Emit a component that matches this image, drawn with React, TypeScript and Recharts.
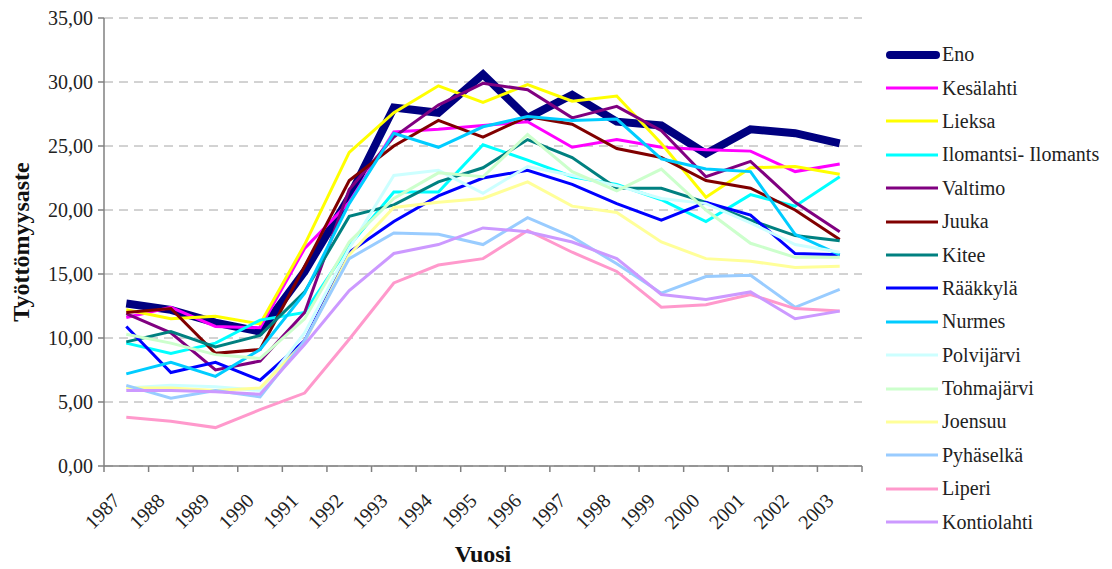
import { CartesianGrid, Legend, Line, LineChart, XAxis, YAxis } from "recharts";

// Työttömyysaste (%) by municipality, 1987–2003
const years = [1987, 1988, 1989, 1990, 1991, 1992, 1993, 1994, 1995, 1996, 1997, 1998, 1999, 2000, 2001, 2002, 2003];

const eno = [12.7, 12.2, 11.2, 10.5, 15.2, 21.0, 28.0, 27.6, 30.6, 27.2, 29.0, 26.9, 26.6, 24.4, 26.3, 26.0, 25.2];
const kesalahti = [11.6, 12.4, 10.9, 10.8, 17.0, 20.6, 26.1, 26.3, 26.6, 26.9, 24.9, 25.5, 24.9, 24.7, 24.6, 23.0, 23.6];
const lieksa = [12.2, 11.5, 11.7, 11.1, 17.3, 24.5, 27.6, 29.7, 28.4, 29.8, 28.5, 28.9, 25.2, 21.0, 23.3, 23.4, 22.8];
const ilomantsi = [9.6, 8.8, 9.6, 11.4, 12.0, 17.2, 21.4, 21.4, 25.1, 23.9, 22.6, 22.0, 20.8, 19.1, 21.2, 20.3, 22.6];
const valtimo = [11.9, 10.4, 7.5, 8.2, 12.0, 21.6, 25.7, 28.2, 29.9, 29.4, 27.2, 28.1, 26.2, 22.6, 23.8, 20.6, 18.3];
const juuka = [12.0, 12.3, 8.8, 9.1, 15.6, 22.3, 25.0, 27.0, 25.7, 27.3, 26.7, 24.8, 24.1, 22.3, 21.7, 20.0, 17.7];
const kitee = [9.7, 10.5, 9.3, 10.2, 13.6, 19.5, 20.4, 22.2, 23.3, 25.5, 24.1, 21.7, 21.7, 20.6, 19.2, 18.0, 17.6];
const raakkyla = [10.9, 7.3, 8.1, 6.7, 9.8, 16.7, 19.1, 21.1, 22.5, 23.1, 22.0, 20.5, 19.2, 20.6, 19.6, 16.6, 16.5];
const nurmes = [7.2, 8.1, 7.0, 9.1, 13.5, 20.5, 26.0, 24.9, 26.5, 27.3, 27.0, 27.1, 24.0, 23.2, 23.0, 18.1, 16.5];
const polvijarvi = [6.1, 6.3, 6.2, 5.9, 10.4, 17.0, 22.7, 23.1, 21.3, 23.4, 22.7, 21.9, 20.9, 20.5, 19.0, 17.3, 16.7];
const tohmajarvi = [10.3, 9.6, 8.7, 8.4, 11.5, 17.5, 20.9, 22.9, 22.6, 25.9, 23.0, 21.5, 23.2, 20.0, 17.4, 16.3, 16.3];
const joensuu = [6.1, 6.1, 5.9, 6.1, 9.7, 16.5, 20.2, 20.6, 20.9, 22.2, 20.3, 19.8, 17.5, 16.2, 16.0, 15.5, 15.6];
const pyhaselka = [6.3, 5.3, 5.9, 5.4, 9.8, 16.2, 18.2, 18.1, 17.3, 19.4, 17.9, 15.8, 13.5, 14.8, 14.9, 12.4, 13.8];
const liperi = [3.8, 3.5, 3.0, 4.4, 5.7, 9.9, 14.3, 15.7, 16.2, 18.4, 16.7, 15.2, 12.4, 12.6, 13.4, 12.3, 12.1];
const kontiolahti = [5.9, 5.9, 5.8, 5.6, 9.5, 13.7, 16.6, 17.3, 18.6, 18.3, 17.5, 16.2, 13.4, 13.0, 13.6, 11.5, 12.1];

const yTicks = [0, 5, 10, 15, 20, 25, 30, 35];

const series = [
  { name: "Eno", values: eno, color: "#000080", width: 8 },
  { name: "Kesälahti", values: kesalahti, color: "#ff00ff", width: 3 },
  { name: "Lieksa", values: lieksa, color: "#ffff00", width: 3 },
  { name: "Ilomantsi- Ilomants", values: ilomantsi, color: "#00ffff", width: 3 },
  { name: "Valtimo", values: valtimo, color: "#800080", width: 3 },
  { name: "Juuka", values: juuka, color: "#800000", width: 3 },
  { name: "Kitee", values: kitee, color: "#008080", width: 3 },
  { name: "Rääkkylä", values: raakkyla, color: "#0000ff", width: 3 },
  { name: "Nurmes", values: nurmes, color: "#00ccff", width: 3 },
  { name: "Polvijärvi", values: polvijarvi, color: "#ccffff", width: 3 },
  { name: "Tohmajärvi", values: tohmajarvi, color: "#ccffcc", width: 3 },
  { name: "Joensuu", values: joensuu, color: "#ffff99", width: 3 },
  { name: "Pyhäselkä", values: pyhaselka, color: "#99ccff", width: 3 },
  { name: "Liperi", values: liperi, color: "#ff99cc", width: 3 },
  { name: "Kontiolahti", values: kontiolahti, color: "#cc99ff", width: 3 },
];

const data = years.map((year, i) => {
  const row: Record<string, number> = { year };
  series.forEach((s) => {
    row[s.name] = s.values[i];
  });
  return row;
});

// labels sit on the years, tick marks on the half-years between them
const xTicks = years.flatMap((y) => [y - 0.5, y]).concat(years[years.length - 1] + 0.5);

const FONT = "'Liberation Serif', 'Times New Roman', serif";
const AXIS = "#808080";

function YearTick(props: any) {
  const { x, y, payload } = props;
  const v = payload.value as number;
  if (!Number.isInteger(v)) {
    return <line x1={x} x2={x} y1={y} y2={y + 6} stroke={AXIS} strokeWidth={1.5} />;
  }
  const px = x - 5;
  const py = y + 36;
  return (
    <text x={px} y={py} transform={`rotate(-45 ${px} ${py})`} textAnchor="end" fontFamily={FONT} fontSize={20} fill="#222">
      {v}
    </text>
  );
}

function LegendBox() {
  return (
    <div style={{ fontFamily: FONT, fontSize: 20, color: "#222" }}>
      {series.map((s) => (
        <div key={s.name} style={{ display: "flex", alignItems: "center", height: 33.4 }}>
          <svg width={58} height={12} style={{ flex: "none" }}>
            <line x1={s.width > 4 ? 6 : 2} x2={s.width > 4 ? 52 : 54} y1={6} y2={6} stroke={s.color} strokeWidth={s.width} strokeLinecap={s.width > 4 ? "round" : "butt"} />
          </svg>
          <span style={{ whiteSpace: "nowrap" }}>{s.name}</span>
        </div>
      ))}
    </div>
  );
}

export default function App() {
  return (
    <div>
      <style>{"body{margin:0}"}</style>
      <LineChart width={1112} height={569} data={data} margin={{ top: 18, right: 250, bottom: 0, left: 0 }}>
        <CartesianGrid vertical={false} strokeDasharray="9 6" stroke="#a6a6a6" />
        <XAxis
          dataKey="year"
          type="number"
          domain={[1986.5, 2003.5]}
          ticks={xTicks}
          interval={0}
          height={103}
          tickSize={0}
          tickMargin={0}
          tickLine={false}
          tick={<YearTick />}
          axisLine={{ stroke: AXIS, strokeWidth: 1.5 }}
          label={(p: any) => (
            <text x={p.viewBox.x + p.viewBox.width / 2} y={p.viewBox.y + 96} textAnchor="middle" fontFamily={FONT} fontWeight="bold" fontSize={24} fill="#111">
              Vuosi
            </text>
          )}
        />
        <YAxis
          domain={[0, 35]}
          ticks={yTicks}
          interval={0}
          width={104}
          tickSize={6}
          tickMargin={5}
          tickLine={{ stroke: AXIS, strokeWidth: 1.5 }}
          axisLine={{ stroke: AXIS, strokeWidth: 1.5 }}
          tick={{ fontFamily: FONT, fontSize: 20, fill: "#222" }}
          tickFormatter={(v: number) => v.toFixed(2).replace(".", ",")}
          label={(p: any) => {
            const cx = 29;
            const cy = p.viewBox.y + p.viewBox.height / 2;
            return (
              <text x={cx} y={cy} transform={`rotate(-90 ${cx} ${cy})`} textAnchor="middle" fontFamily={FONT} fontWeight="bold" fontSize={24} fill="#111">
                Työttömyysaste
              </text>
            );
          }}
        />
        {series.map((s) => (
          <Line
            key={s.name}
            type="linear"
            dataKey={s.name}
            stroke={s.color}
            strokeWidth={s.width}
            dot={false}
            activeDot={false}
            isAnimationActive={false}
          />
        ))}
        <Legend
          layout="vertical"
          align="center"
          verticalAlign="middle"
          wrapperStyle={{ left: 884, top: 38, width: 228 }}
          content={() => <LegendBox />}
        />
      </LineChart>
    </div>
  );
}
